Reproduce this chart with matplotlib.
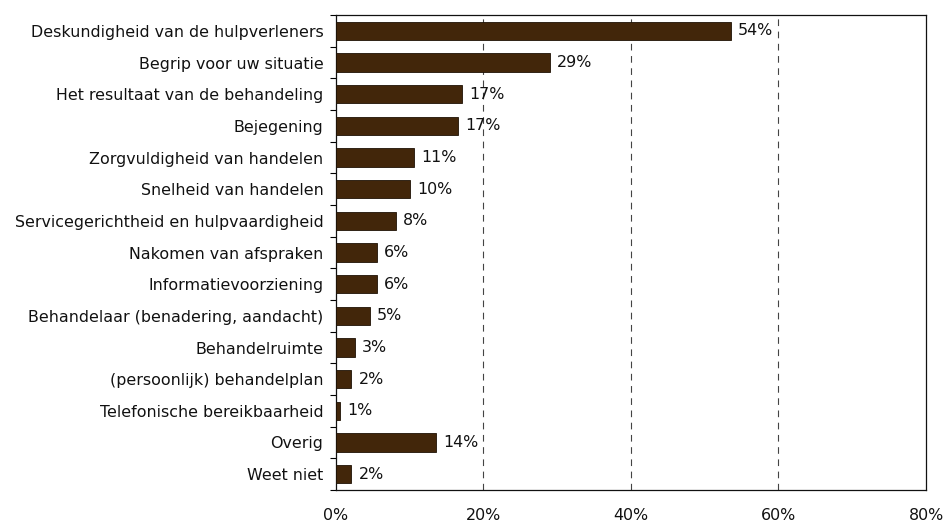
import matplotlib
matplotlib.use("Agg")
import matplotlib.pyplot as plt
from matplotlib.ticker import FixedLocator, FuncFormatter

categories = [
    "Deskundigheid van de hulpverleners",
    "Begrip voor uw situatie",
    "Het resultaat van de behandeling",
    "Bejegening",
    "Zorgvuldigheid van handelen",
    "Snelheid van handelen",
    "Servicegerichtheid en hulpvaardigheid",
    "Nakomen van afspraken",
    "Informatievoorziening",
    "Behandelaar (benadering, aandacht)",
    "Behandelruimte",
    "(persoonlijk) behandelplan",
    "Telefonische bereikbaarheid",
    "Overig",
    "Weet niet",
]
values = [53.6, 29.0, 17.1, 16.6, 10.6, 10.1, 8.1, 5.6, 5.6, 4.6, 2.6, 2.1, 0.6, 13.6, 2.1]
x_ticks = [0, 20, 40, 60, 80]

FS = 11.4
plt.rcParams['font.family'] = ['DejaVu Sans']
fig = plt.figure(figsize=(9.48, 5.23), dpi=100)
ax = fig.add_axes([0.3544, 0.0631, 0.9768 - 0.3544, 0.9713 - 0.0631])

n = len(categories)
ypos = list(range(n))
ax.barh(ypos, values, height=0.57, color="#42260a", edgecolor="#1e1205", linewidth=0.6, zorder=3)
for y, v in zip(ypos, values):
    ax.annotate(f"{round(v)}%", xy=(v, y), xytext=(5, 0), textcoords="offset points",
                va="center", ha="left", fontsize=FS, color="#111111", zorder=4)

ax.set_xlim(0, 80)
ax.set_ylim(n - 0.5, -0.5)
ax.set_yticks(ypos)
ax.set_yticklabels(categories, fontsize=FS, color="#111111")
ax.yaxis.set_minor_locator(FixedLocator([i - 0.5 for i in range(n + 1)]))
ax.tick_params(axis='y', which='major', length=0, pad=9)
ax.tick_params(axis='y', which='minor', length=4, width=0.8, direction='out')
ax.set_xticks(x_ticks)
ax.xaxis.set_major_formatter(FuncFormatter(lambda v, p: f"{int(v)}%"))
ax.tick_params(axis='x', length=0, pad=13, labelsize=FS, labelcolor="#111111")

for g in x_ticks[1:-1]:
    ax.axvline(g, color="#444444", linewidth=0.8, linestyle=(0, (6, 5)), zorder=1)

for s in ax.spines.values():
    s.set_color("#111111")
    s.set_linewidth(0.9)

fig.savefig("out.png", dpi=100)
